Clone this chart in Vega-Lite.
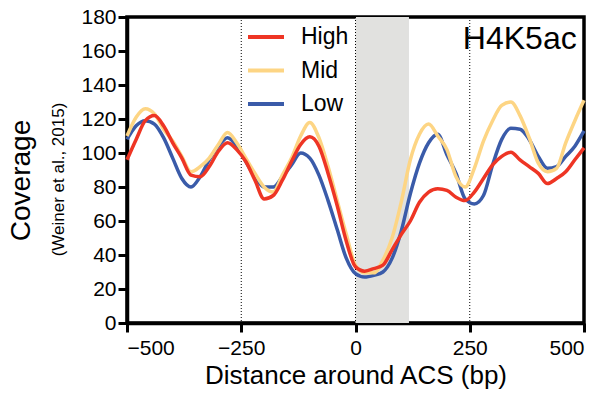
{
  "$schema": "https://vega.github.io/schema/vega-lite/v6.json",
  "width": 457,
  "height": 306,
  "autosize": "none",
  "padding": {"left": 127, "top": 17, "right": 22, "bottom": 76},
  "config": {
    "view": {"stroke": "#000000", "strokeWidth": 3.5},
    "font": "Liberation Sans"
  },
  "resolve": {"scale": {"y": "independent"}, "axis": {"y": "independent"}},
  "layer": [
    {
      "data": {"values": [{"start": 0, "end": 117}]},
      "mark": {"type": "rect", "color": "#E1E1DF"},
      "encoding": {
        "x": {"field": "start", "type": "quantitative", "scale": {"domain": [-500, 500], "nice": false},
              "axis": {"values": [-500, -250, 0, 250, 500], "title": "Distance around ACS (bp)", "titleFontSize": 26, "titleFontWeight": "normal", "titleColor": "#000000", "labelPadding": 5, "gridOpacity": 0,
                       "domainColor": "#000000", "domainWidth": 3.5, "tickColor": "#000000", "tickWidth": 3, "tickSize": 9, "labelColor": "#000000", "labelFontSize": 21,
                       "titleY": 60, "titleBaseline": "alphabetic"}},
        "x2": {"field": "end"}
      }
    },
    {
      "data": {"values": [{"p": -250}, {"p": 0}, {"p": 250}]},
      "mark": {"type": "rule", "color": "black", "strokeWidth": 1, "strokeDash": [1, 2]},
      "encoding": {"x": {"field": "p", "type": "quantitative"}}
    },
    {
      "data": {"values": [
        {"x": -500, "v": 108, "s": "Low"}, {"x": -480, "v": 116, "s": "Low"}, {"x": -460, "v": 119, "s": "Low"}, {"x": -440, "v": 117, "s": "Low"}, {"x": -420, "v": 109, "s": "Low"}, {"x": -400, "v": 97, "s": "Low"}, {"x": -380, "v": 85, "s": "Low"}, {"x": -360, "v": 80, "s": "Low"}, {"x": -340, "v": 86, "s": "Low"}, {"x": -320, "v": 96, "s": "Low"}, {"x": -300, "v": 104, "s": "Low"}, {"x": -280, "v": 109, "s": "Low"}, {"x": -260, "v": 104, "s": "Low"}, {"x": -240, "v": 95, "s": "Low"}, {"x": -220, "v": 86, "s": "Low"}, {"x": -200, "v": 80, "s": "Low"}, {"x": -180, "v": 80, "s": "Low"}, {"x": -160, "v": 86, "s": "Low"}, {"x": -140, "v": 93, "s": "Low"}, {"x": -120, "v": 100, "s": "Low"}, {"x": -100, "v": 97, "s": "Low"}, {"x": -80, "v": 87, "s": "Low"}, {"x": -60, "v": 72, "s": "Low"}, {"x": -40, "v": 55, "s": "Low"}, {"x": -20, "v": 38, "s": "Low"}, {"x": 0, "v": 29, "s": "Low"}, {"x": 20, "v": 27, "s": "Low"}, {"x": 40, "v": 28, "s": "Low"}, {"x": 60, "v": 30, "s": "Low"}, {"x": 80, "v": 38, "s": "Low"}, {"x": 100, "v": 54, "s": "Low"}, {"x": 120, "v": 76, "s": "Low"}, {"x": 140, "v": 94, "s": "Low"}, {"x": 160, "v": 106, "s": "Low"}, {"x": 180, "v": 111, "s": "Low"}, {"x": 200, "v": 99, "s": "Low"}, {"x": 220, "v": 88, "s": "Low"}, {"x": 240, "v": 73, "s": "Low"}, {"x": 260, "v": 70, "s": "Low"}, {"x": 280, "v": 75, "s": "Low"}, {"x": 300, "v": 93, "s": "Low"}, {"x": 320, "v": 108, "s": "Low"}, {"x": 340, "v": 114.5, "s": "Low"}, {"x": 360, "v": 114, "s": "Low"}, {"x": 380, "v": 108, "s": "Low"}, {"x": 400, "v": 98, "s": "Low"}, {"x": 420, "v": 91, "s": "Low"}, {"x": 440, "v": 92, "s": "Low"}, {"x": 460, "v": 98, "s": "Low"}, {"x": 480, "v": 104, "s": "Low"}, {"x": 500, "v": 113, "s": "Low"},
        {"x": -500, "v": 110, "s": "Mid"}, {"x": -480, "v": 121, "s": "Mid"}, {"x": -460, "v": 126, "s": "Mid"}, {"x": -440, "v": 123, "s": "Mid"}, {"x": -420, "v": 114, "s": "Mid"}, {"x": -400, "v": 107, "s": "Mid"}, {"x": -380, "v": 98, "s": "Mid"}, {"x": -360, "v": 89, "s": "Mid"}, {"x": -340, "v": 92, "s": "Mid"}, {"x": -320, "v": 97, "s": "Mid"}, {"x": -300, "v": 105, "s": "Mid"}, {"x": -280, "v": 112, "s": "Mid"}, {"x": -260, "v": 106, "s": "Mid"}, {"x": -240, "v": 97, "s": "Mid"}, {"x": -220, "v": 88, "s": "Mid"}, {"x": -200, "v": 80, "s": "Mid"}, {"x": -180, "v": 77, "s": "Mid"}, {"x": -160, "v": 87, "s": "Mid"}, {"x": -140, "v": 97, "s": "Mid"}, {"x": -120, "v": 110, "s": "Mid"}, {"x": -100, "v": 118, "s": "Mid"}, {"x": -80, "v": 109, "s": "Mid"}, {"x": -60, "v": 92, "s": "Mid"}, {"x": -40, "v": 72, "s": "Mid"}, {"x": -20, "v": 52, "s": "Mid"}, {"x": 0, "v": 34, "s": "Mid"}, {"x": 20, "v": 29.5, "s": "Mid"}, {"x": 40, "v": 29.5, "s": "Mid"}, {"x": 60, "v": 37, "s": "Mid"}, {"x": 80, "v": 50, "s": "Mid"}, {"x": 100, "v": 71, "s": "Mid"}, {"x": 120, "v": 96, "s": "Mid"}, {"x": 140, "v": 111, "s": "Mid"}, {"x": 160, "v": 117, "s": "Mid"}, {"x": 180, "v": 110, "s": "Mid"}, {"x": 200, "v": 102, "s": "Mid"}, {"x": 220, "v": 86, "s": "Mid"}, {"x": 240, "v": 80, "s": "Mid"}, {"x": 260, "v": 91, "s": "Mid"}, {"x": 280, "v": 107, "s": "Mid"}, {"x": 300, "v": 119, "s": "Mid"}, {"x": 320, "v": 128, "s": "Mid"}, {"x": 340, "v": 130, "s": "Mid"}, {"x": 360, "v": 122, "s": "Mid"}, {"x": 380, "v": 109, "s": "Mid"}, {"x": 400, "v": 94, "s": "Mid"}, {"x": 420, "v": 89, "s": "Mid"}, {"x": 440, "v": 91, "s": "Mid"}, {"x": 460, "v": 106, "s": "Mid"}, {"x": 480, "v": 119, "s": "Mid"}, {"x": 500, "v": 131, "s": "Mid"},
        {"x": -500, "v": 96, "s": "High"}, {"x": -480, "v": 108, "s": "High"}, {"x": -460, "v": 119, "s": "High"}, {"x": -440, "v": 122, "s": "High"}, {"x": -420, "v": 116, "s": "High"}, {"x": -400, "v": 106, "s": "High"}, {"x": -380, "v": 97, "s": "High"}, {"x": -360, "v": 87, "s": "High"}, {"x": -340, "v": 86, "s": "High"}, {"x": -320, "v": 92, "s": "High"}, {"x": -300, "v": 101, "s": "High"}, {"x": -280, "v": 106, "s": "High"}, {"x": -260, "v": 102, "s": "High"}, {"x": -240, "v": 95, "s": "High"}, {"x": -220, "v": 84, "s": "High"}, {"x": -200, "v": 73, "s": "High"}, {"x": -180, "v": 75, "s": "High"}, {"x": -160, "v": 84, "s": "High"}, {"x": -140, "v": 95, "s": "High"}, {"x": -120, "v": 105, "s": "High"}, {"x": -100, "v": 109.5, "s": "High"}, {"x": -80, "v": 104, "s": "High"}, {"x": -60, "v": 88, "s": "High"}, {"x": -40, "v": 69, "s": "High"}, {"x": -20, "v": 48, "s": "High"}, {"x": 0, "v": 33, "s": "High"}, {"x": 20, "v": 30.5, "s": "High"}, {"x": 40, "v": 32, "s": "High"}, {"x": 60, "v": 34, "s": "High"}, {"x": 80, "v": 43, "s": "High"}, {"x": 100, "v": 52, "s": "High"}, {"x": 120, "v": 60, "s": "High"}, {"x": 140, "v": 71, "s": "High"}, {"x": 160, "v": 77, "s": "High"}, {"x": 180, "v": 79, "s": "High"}, {"x": 200, "v": 78, "s": "High"}, {"x": 220, "v": 74, "s": "High"}, {"x": 240, "v": 72, "s": "High"}, {"x": 260, "v": 77, "s": "High"}, {"x": 280, "v": 85, "s": "High"}, {"x": 300, "v": 93, "s": "High"}, {"x": 320, "v": 98, "s": "High"}, {"x": 340, "v": 100.5, "s": "High"}, {"x": 360, "v": 96, "s": "High"}, {"x": 380, "v": 92, "s": "High"}, {"x": 400, "v": 88, "s": "High"}, {"x": 420, "v": 82, "s": "High"}, {"x": 440, "v": 85, "s": "High"}, {"x": 460, "v": 89, "s": "High"}, {"x": 480, "v": 96, "s": "High"}, {"x": 500, "v": 103, "s": "High"}
      ]},
      "mark": {"type": "line", "strokeWidth": 3.5, "interpolate": "monotone"},
      "encoding": {
        "x": {"field": "x", "type": "quantitative", "scale": {"domain": [-500, 500], "nice": false}},
        "y": {"field": "v", "type": "quantitative", "scale": {"domain": [0, 180], "nice": false},
              "axis": {"orient": "left", "tickCount": 9, "title": "Coverage", "titleFontSize": 28, "titleFontWeight": "normal", "titleColor": "#000000", "labelPadding": 2, "grid": false,
                       "domainColor": "#000000", "domainWidth": 3.5, "tickColor": "#000000", "tickWidth": 3, "tickSize": 9, "labelColor": "#000000", "labelFontSize": 21,
                       "titleX": -106, "titleY": 163, "titleBaseline": "middle", "titleAngle": -90}},
        "color": {"field": "s", "type": "nominal", "scale": {"domain": ["High", "Mid", "Low"], "range": ["#EE3524", "#FDD584", "#3A5BA9"]},
                  "legend": {"orient": "none", "legendX": 119, "legendY": 0, "title": null, "symbolType": "stroke", "symbolStrokeWidth": 4, "symbolSize": 1296, "labelFontSize": 23, "rowPadding": 1.5, "labelOffset": 15, "labelColor": "#000000"}}
      }
    },
    {
      "data": {"values": [{"x": 484, "v": 161, "t": "H4K5ac"}]},
      "mark": {"type": "text", "align": "right", "baseline": "alphabetic", "fontSize": 32, "color": "#000000"},
      "encoding": {
        "x": {"field": "x", "type": "quantitative"},
        "y": {"field": "v", "type": "quantitative", "scale": {"domain": [0, 180], "nice": false},
              "axis": {"orient": "left", "title": "(Weiner et al., 2015)", "titleFontSize": 17, "titleFontWeight": "normal", "labels": false, "ticks": false, "domain": false, "grid": false, "titleColor": "#000000",
                       "titleX": -69, "titleY": 162, "titleBaseline": "middle", "titleAngle": -90}},
        "text": {"field": "t"}
      }
    }
  ]
}
